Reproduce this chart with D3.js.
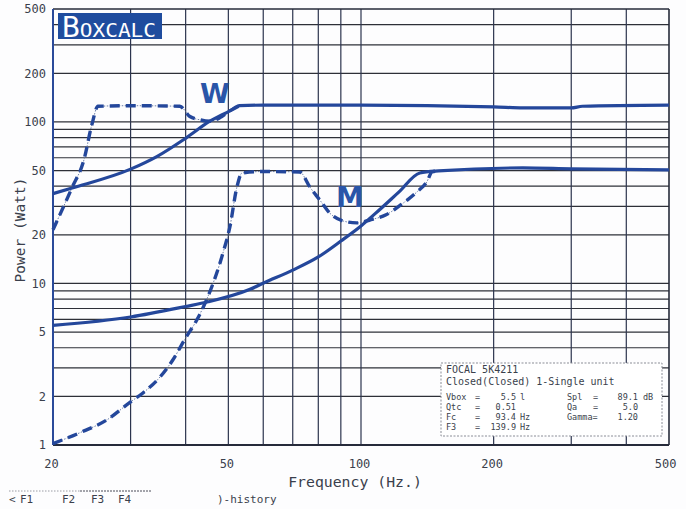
<!DOCTYPE html>
<html>
<head>
<meta charset="utf-8">
<script src="https://cdn.jsdelivr.net/npm/d3@7"></script>
<style>
  body { margin: 0; background: #ffffff; }
  svg { display: block; }
</style>
</head>
<body>
<svg id="chart"></svg>
<script>
// frequency (Hz) / power (Watt)
var wSolid = [[20, 36], [22.1, 39], [30, 51], [34.4, 61], [40.2, 80], [45.4, 101], [50.4, 117], [53, 126], [60, 127], [100, 127], [200, 124], [233, 122], [300, 122], [318, 125], [500, 127]];
var wDash = [[20, 21.5], [22.1, 39.3], [23.5, 58], [24.5, 96], [25.3, 125], [30, 126], [38.8, 125], [40.9, 108], [43.1, 103], [45.4, 101], [47.8, 106], [50.4, 117], [53, 126]];
var mSolid = [[20, 5.5], [30, 6.2], [40, 7.2], [45, 7.7], [56, 9.2], [60.3, 10.1], [70, 12.1], [80, 14.6], [90, 18.3], [100, 22.7], [110, 28.5], [122, 36.9], [136, 48.3], [150, 49.7], [233, 51.9], [300, 51.2], [500, 50.5]];
var mDash = [[20, 1.02], [23, 1.19], [26.5, 1.43], [30, 1.85], [32, 2.1], [35, 2.64], [37.4, 3.36], [40, 4.6], [42.4, 5.94], [44.9, 8.25], [48.6, 15.4], [50.4, 22.4], [52.3, 39.6], [53.7, 48.3], [60, 49.3], [72.6, 49], [76.5, 39.6], [80.6, 32.9], [84.9, 27.3], [90.9, 24.4], [97.8, 23.7], [104.7, 24.7], [114, 26.6], [123, 30.6], [134, 36.9], [141, 42.5], [145, 49], [150, 49.7]];

var yLabels = [1, 2, 5, 10, 20, 50, 100, 200, 500];
var xLabels = [20, 50, 100, 200, 500];
var yGrid = [2, 3, 4, 5, 6, 7, 8, 9, 10, 20, 30, 40, 50, 60, 70, 80, 90, 100, 200, 300, 400];
var xGrid = [30, 40, 50, 60, 70, 80, 90, 100, 200, 300, 400];

var infoTitle = ['FOCAL 5K4211', 'Closed(Closed) 1-Single unit'];
var infoRows = [
    ['Vbox', '=', '5.5', 'l', 'Spl', '=', '89.1', 'dB'],
    ['Qtc', '=', '0.51', '', 'Qa', '=', '5.0', ''],
    ['Fc', '=', '93.4', 'Hz', 'Gamma=', '', '1.20', ''],
    ['F3', '=', '139.9', 'Hz', '', '', '', '']
];
var footer = [['<', 9], ['F1', 20], ['F2', 62], ['F3', 91], ['F4', 118], [')-history', 217]];

var width = 686, height = 509;
var pLeft = 53, pRight = 669, pTop = 9, pBottom = 445;
var blue = '#24479b', ink = '#3a3f4c', font = 'DejaVu Sans Mono, monospace';

var x = d3.scaleLog().domain([20, 500]).range([pLeft, pRight]);
var y = d3.scaleLog().domain([1, 500]).range([pBottom, pTop]);

var svg = d3.select('#chart').attr('width', width).attr('height', height);

svg.append('rect').attr('width', width).attr('height', height).style('fill', '#fdfdfe');

// grid
svg.append('g').selectAll('line').data(yGrid).enter().append('line')
    .attr('x1', pLeft).attr('x2', pRight)
    .attr('y1', function (d) { return y(d); }).attr('y2', function (d) { return y(d); })
    .attr('stroke', '#2e3038').attr('stroke-width', 1.2);
svg.append('g').selectAll('line').data(xGrid).enter().append('line')
    .attr('y1', pTop).attr('y2', pBottom)
    .attr('x1', function (d) { return x(d); }).attr('x2', function (d) { return x(d); })
    .attr('stroke', '#2c344e').attr('stroke-width', 1.2);

// frame
svg.append('line').attr('x1', pLeft).attr('x2', pRight).attr('y1', pTop).attr('y2', pTop).attr('stroke', '#262b3a').attr('stroke-width', 1.6);
svg.append('line').attr('x1', pRight).attr('x2', pRight).attr('y1', pTop).attr('y2', pBottom).attr('stroke', '#262b3a').attr('stroke-width', 1.6);
svg.append('line').attr('x1', pLeft).attr('x2', pRight).attr('y1', pBottom).attr('y2', pBottom).attr('stroke', '#262b3a').attr('stroke-width', 2);
svg.append('line').attr('x1', pLeft).attr('x2', pLeft).attr('y1', pTop).attr('y2', pBottom).attr('stroke', '#2a4a9a').attr('stroke-width', 2);

// axes labels
var yAxis = svg.append('g').attr('transform', 'translate(' + (pLeft - 4) + ',0)')
    .call(d3.axisLeft(y).tickValues(yLabels).tickSize(0).tickFormat(d3.format('d')));
var xAxis = svg.append('g').attr('transform', 'translate(-2,' + (pBottom + 11) + ')')
    .call(d3.axisBottom(x).tickValues(xLabels).tickSize(0).tickFormat(d3.format('d')));
[yAxis, xAxis].forEach(function (a) {
    a.select('.domain').remove();
    a.selectAll('text').attr('font-family', font).attr('font-size', 12).attr('fill', ink);
});
xAxis.selectAll('text').filter(function (d) { return d === 500; }).attr('text-anchor', 'end').attr('dx', 9);

svg.append('text').attr('x', 355).attr('y', 487).attr('text-anchor', 'middle')
    .attr('font-family', font).attr('font-size', 14.8).attr('fill', ink).text('Frequency (Hz.)');
svg.append('text').attr('transform', 'translate(25,230) rotate(-90)').attr('text-anchor', 'middle')
    .attr('font-family', font).attr('font-size', 14.5).attr('fill', ink).text('Power (Watt)');

// curves
var line = d3.line()
    .x(function (d) { return x(d[0]); })
    .y(function (d) { return y(d[1]); })
    .curve(d3.curveMonotoneX);

[wDash, mDash].forEach(function (s) {
    svg.append('path').attr('d', line(s)).attr('fill', 'none')
        .attr('stroke', '#5a6f9e').attr('stroke-width', 0.9).attr('stroke-dasharray', '1.5,1.5');
    svg.append('path').attr('d', line(s)).attr('fill', 'none')
        .attr('stroke', blue).attr('stroke-width', 3.4).attr('stroke-dasharray', '10,6');
});
[wSolid, mSolid].forEach(function (s) {
    svg.append('path').attr('d', line(s)).attr('fill', 'none')
        .attr('stroke', blue).attr('stroke-width', 3.2).attr('stroke-linejoin', 'round');
});

// hand written marks
svg.append('text').attr('x', 215).attr('y', 103).attr('text-anchor', 'middle')
    .attr('font-family', 'DejaVu Sans').attr('font-weight', 'bold').attr('font-size', 27).attr('fill', '#2a55a8').text('W');
svg.append('text').attr('x', 350).attr('y', 207).attr('text-anchor', 'middle')
    .attr('font-family', 'DejaVu Sans').attr('font-weight', 'bold').attr('font-size', 28).attr('fill', '#2a55a8').text('M');

// logo
svg.append('rect').attr('x', 58).attr('y', 13).attr('width', 104).attr('height', 26).style('fill', '#1f4c9e');
var logo = svg.append('text').attr('x', 62).attr('y', 37).attr('font-family', font)
    .attr('fill', '#ffffff').attr('textLength', 94).attr('lengthAdjust', 'spacingAndGlyphs');
logo.append('tspan').attr('font-size', 28).text('B');
logo.append('tspan').attr('font-size', 20).text('OXCALC');

// info box
var box = svg.append('g');
box.append('rect').attr('x', 441).attr('y', 363).attr('width', 221).attr('height', 73)
    .style('fill', '#ffffff').style('stroke', '#8a8d96').style('stroke-dasharray', '2,1.5');
box.selectAll('.title').data(infoTitle).enter().append('text')
    .attr('x', 446).attr('y', function (d, i) { return 373 + i * 12; })
    .attr('font-family', font).attr('font-size', 10).attr('fill', ink).text(function (d) { return d; });
var cols = [[446, 'start'], [475, 'start'], [516, 'end'], [520, 'start'], [567, 'start'], [593, 'start'], [638, 'end'], [643, 'start']];
infoRows.forEach(function (row, r) {
    row.forEach(function (t, c) {
        box.append('text').attr('x', cols[c][0]).attr('y', 400 + r * 9.9)
            .attr('text-anchor', cols[c][1]).attr('font-family', font).attr('font-size', 8.5)
            .attr('fill', ink).text(t);
    });
});

// footer
svg.append('line').attr('x1', 9).attr('x2', 80).attr('y1', 491).attr('y2', 491)
    .attr('stroke', '#9a9ca4').attr('stroke-dasharray', '1.5,1.5');
svg.append('line').attr('x1', 80).attr('x2', 151).attr('y1', 491).attr('y2', 491)
    .attr('stroke', '#4a4d58').attr('stroke-dasharray', '2,1');
svg.selectAll('.foot').data(footer).enter().append('text')
    .attr('x', function (d) { return d[1]; }).attr('y', 503)
    .attr('font-family', font).attr('font-size', 11).attr('fill', ink).text(function (d) { return d[0]; });
</script>
</body>
</html>
